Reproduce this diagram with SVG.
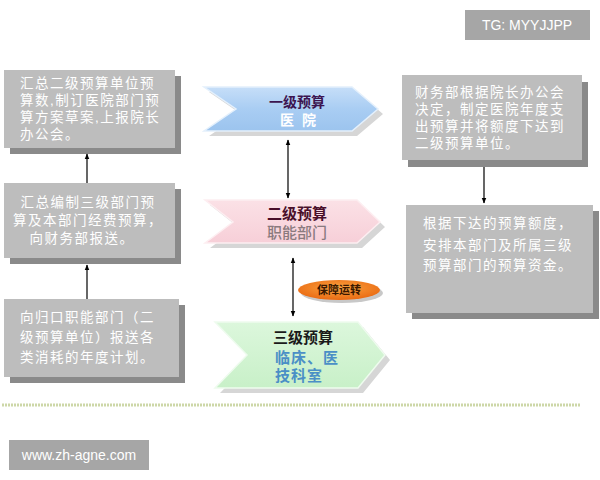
<svg xmlns="http://www.w3.org/2000/svg" width="600" height="480" viewBox="0 0 600 480">
<defs>
<style>
.box{fill:#bdbdbd}
.shadow{fill:#8a8a8a}
.bt{font-family:"Liberation Sans","Noto Sans CJK SC",sans-serif;font-size:13.5px;fill:#ffffff;letter-spacing:1.5px}
.cs{fill:#d6d6d6}
.conn{stroke:#000;stroke-width:1.2;fill:none}
.t{font-family:"Liberation Sans","Noto Sans CJK SC",sans-serif;font-weight:bold}
</style>
<marker id="ah" viewBox="0 0 10 10" refX="9" refY="5" markerWidth="6" markerHeight="7" orient="auto-start-reverse" markerUnits="userSpaceOnUse">
<path d="M0,1 L10,5 L0,9 Z" fill="#000"/>
</marker>
<linearGradient id="gBlue" x1="0" y1="0" x2="0" y2="1">
<stop offset="0" stop-color="#c6def8"/><stop offset="0.5" stop-color="#a9cdf3"/><stop offset="1" stop-color="#9cc4ee"/>
</linearGradient>
<linearGradient id="gPink" x1="0" y1="0" x2="0" y2="1">
<stop offset="0" stop-color="#fbe1e6"/><stop offset="1" stop-color="#f7cfd8"/>
</linearGradient>
<linearGradient id="gGreen" x1="0" y1="0" x2="0" y2="1">
<stop offset="0" stop-color="#dcf7dc"/><stop offset="1" stop-color="#c8f0c8"/>
</linearGradient>
<radialGradient id="gOrange" cx="0.5" cy="0.4" r="0.6">
<stop offset="0" stop-color="#fba542"/><stop offset="1" stop-color="#ea6a12"/>
</radialGradient>
</defs>
<rect width="600" height="480" fill="#ffffff"/>

<g id="left1">
<rect class="shadow" x="10" y="76" width="171" height="78"/>
<rect class="box" x="4" y="70" width="171" height="78"/>
<text class="bt" x="20" y="88">汇总二级预算单位预</text>
<text class="bt" x="20" y="105">算数,制订医院部门预</text>
<text class="bt" x="20" y="122">算方案草案,上报院长</text>
<text class="bt" x="20" y="139">办公会。</text>
</g>

<g id="left2">
<rect class="shadow" x="10" y="189" width="171" height="75"/>
<rect class="box" x="4" y="183" width="171" height="75"/>
<text class="bt" x="88" y="207" text-anchor="middle">汇总编制三级部门预</text>
<text class="bt" x="88" y="225" text-anchor="middle">算及本部门经费预算，</text>
<text class="bt" x="82" y="243" text-anchor="middle">向财务部报送。</text>
</g>

<g id="left3">
<rect class="shadow" x="10" y="305" width="175" height="78"/>
<rect class="box" x="4" y="299" width="175" height="78"/>
<text class="bt" x="20" y="322">向归口职能部门（二</text>
<text class="bt" x="20" y="342">级预算单位）报送各</text>
<text class="bt" x="20" y="362">类消耗的年度计划。</text>
</g>

<g id="right1">
<rect class="shadow" x="408" y="82" width="180" height="85"/>
<rect class="box" x="402" y="75" width="180" height="85"/>
<text class="bt" x="415" y="97">财务部根据院长办公会</text>
<text class="bt" x="415" y="114">决定，制定医院年度支</text>
<text class="bt" x="415" y="131">出预算并将额度下达到</text>
<text class="bt" x="415" y="148">二级预算单位。</text>
</g>

<g id="right2">
<rect class="shadow" x="412" y="211" width="187" height="108"/>
<rect class="box" x="406" y="205" width="187" height="108"/>
<text class="bt" x="423" y="228">根据下达的预算额度，</text>
<text class="bt" x="423" y="250">安排本部门及所属三级</text>
<text class="bt" x="423" y="270">预算部门的预算资金。</text>
</g>

<g id="level1">
<polygon class="cs" points="209,92 357,92 383,114 357,136 209,136 241,114"/>
<polygon points="204,87 352,87 378,109 352,131 204,131 236,109" fill="url(#gBlue)" stroke="#e4f0fc" stroke-width="1.5"/>
<text class="t" x="297" y="107" font-size="14" fill="#3c1450" text-anchor="middle">一级预算</text>
<text class="t" x="302" y="125" font-size="14" fill="#ffffff" text-anchor="middle" letter-spacing="8">医院</text>
</g>

<g id="level2">
<polygon class="cs" points="210,205 362,205 385,227 362,248 210,248 238,227"/>
<polygon points="205,200 357,200 380,222 357,243 205,243 233,222" fill="url(#gPink)" stroke="#fdeef1" stroke-width="1.5"/>
<text class="t" x="297" y="219" font-size="15" fill="#4a0f2a" text-anchor="middle">二级预算</text>
<text x="297" y="238" font-family="Liberation Sans,Noto Sans CJK SC,sans-serif" font-size="15" font-weight="500" fill="#8a7a7e" text-anchor="middle">职能部门</text>
</g>

<g id="level3">
<polygon class="cs" points="220,327 363,327 390,360 363,393 220,393 252,360"/>
<polygon points="215,322 358,322 385,355 358,388 215,388 247,355" fill="url(#gGreen)" stroke="#eefbee" stroke-width="1.5"/>
<text class="t" x="303" y="343" font-size="15" fill="#1a1a1a" text-anchor="middle">三级预算</text>
<text class="t" x="275" y="363" font-size="15" fill="#4a8fc6" letter-spacing="1">临床、医</text>
<text class="t" x="275" y="381" font-size="15" fill="#4a8fc6" letter-spacing="1">技科室</text>
</g>

<g id="badge">
<ellipse cx="342" cy="293" rx="41" ry="10" fill="#c8c8c8"/>
<ellipse cx="339" cy="290" rx="41" ry="10" fill="url(#gOrange)"/>
<text class="t" x="339" y="294" font-size="11" fill="#3a1800" text-anchor="middle">保障运转</text>
</g>

<g id="connectors">
<line class="conn" x1="87" y1="183" x2="87" y2="154" marker-end="url(#ah)"/>
<line class="conn" x1="87" y1="299" x2="87" y2="265" marker-end="url(#ah)"/>
<line class="conn" x1="484" y1="167" x2="484" y2="203" marker-end="url(#ah)"/>
<line class="conn" x1="288" y1="140" x2="288" y2="198" marker-start="url(#ah)" marker-end="url(#ah)"/>
<line class="conn" x1="293" y1="258" x2="293" y2="316" marker-start="url(#ah)" marker-end="url(#ah)"/>
</g>

<line x1="2" y1="405" x2="580" y2="405" stroke="#cdd7a8" stroke-width="3" stroke-dasharray="2 1"/>

<g id="wm1">
<rect x="465" y="10" width="125" height="30" fill="#a6a6a6"/>
<text x="527" y="30" font-family="Liberation Sans,Arial,sans-serif" font-size="14" fill="#ffffff" text-anchor="middle">TG: MYYJJPP</text>
</g>
<g id="wm2">
<rect x="9" y="440" width="140" height="30" fill="#a6a6a6"/>
<text x="79" y="460" font-family="Liberation Sans,Arial,sans-serif" font-size="14" fill="#ffffff" text-anchor="middle">www.zh-agne.com</text>
</g>
</svg>
